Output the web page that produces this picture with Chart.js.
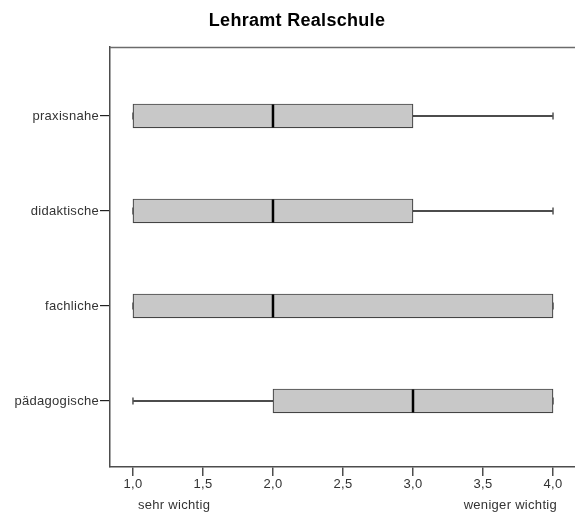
<!DOCTYPE html>
<html>
<head>
<meta charset="utf-8">
<script src="https://cdn.jsdelivr.net/npm/chart.js@4.4.1/dist/chart.umd.min.js"></script>
<style>
  html, body { margin:0; padding:0; background:#fff; }
  #c { display:block; }
</style>
</head>
<body>
<canvas id="c" width="575" height="513"></canvas>
<script>
'use strict';

/* ---- data ------------------------------------------------------------- */
const titleText  = 'Lehramt Realschule';
const categories = ['praxisnahe', 'didaktische', 'fachliche', 'pädagogische'];
const minVals    = [1, 1, 1, 1];
const q1Vals     = [1, 1, 1, 2];
const medianVals = [2, 2, 2, 3];
const q3Vals     = [3, 3, 4, 4];
const maxVals    = [4, 4, 4, 4];
const xTicks     = [1, 1.5, 2, 2.5, 3, 3.5, 4];
const xEndLabels = ['sehr wichtig', 'weniger wichtig'];

const FONT = '"Liberation Sans", Arial, sans-serif';
const AXIS = '#4d4d4d';

/* ---- whiskers, medians, frame, title ---------------------------------- */
const boxExtras = {
  id: 'boxExtras',
  beforeDraw(chart){
    // the reference text runs a bit wider than Arial
    chart.ctx.letterSpacing = '0.3px';
  },
  afterDatasetsDraw(chart){
    const ctx = chart.ctx, xs = chart.scales.x, ys = chart.scales.y;
    ctx.save();
    categories.forEach((c, i) => {
      const y = ys.getPixelForValue(i);
      const pMin = xs.getPixelForValue(minVals[i]), pQ1 = xs.getPixelForValue(q1Vals[i]);
      const pQ3 = xs.getPixelForValue(q3Vals[i]), pMax = xs.getPixelForValue(maxVals[i]);
      // whisker lines
      ctx.strokeStyle = '#111'; ctx.lineWidth = 1.5;
      ctx.beginPath();
      if (pQ1 > pMin){ ctx.moveTo(pMin, y); ctx.lineTo(pQ1, y); }
      if (pMax > pQ3){ ctx.moveTo(pQ3, y); ctx.lineTo(pMax, y); }
      ctx.stroke();
      // caps
      ctx.strokeStyle = '#555'; ctx.lineWidth = 1.5;
      ctx.beginPath();
      ctx.moveTo(pMin, y - 3.5); ctx.lineTo(pMin, y + 3.5);
      ctx.moveTo(pMax, y - 3.5); ctx.lineTo(pMax, y + 3.5);
      ctx.stroke();
      // median
      const pMed = xs.getPixelForValue(medianVals[i]);
      ctx.strokeStyle = '#000'; ctx.lineWidth = 2.5;
      ctx.beginPath(); ctx.moveTo(pMed, y - 11.5); ctx.lineTo(pMed, y + 11.5); ctx.stroke();
    });
    ctx.restore();
  },
  afterDraw(chart){
    const ctx = chart.ctx, a = chart.chartArea, xs = chart.scales.x;
    ctx.save();
    // top frame line
    ctx.strokeStyle = '#6b6b6b'; ctx.lineWidth = 1.5;
    ctx.beginPath(); ctx.moveTo(a.left, a.top + 0.5); ctx.lineTo(chart.width, a.top + 0.5); ctx.stroke();
    // title
    ctx.fillStyle = '#000'; ctx.font = 'bold 18px ' + FONT;
    ctx.textAlign = 'center'; ctx.textBaseline = 'middle';
    ctx.fillText(titleText, 297, 21);
    // end labels under the x axis
    ctx.fillStyle = '#333'; ctx.font = '13px ' + FONT;
    ctx.textAlign = 'left';
    ctx.fillText(xEndLabels[0], xs.getPixelForValue(xTicks[0]) + 5, 505);
    ctx.textAlign = 'right';
    ctx.fillText(xEndLabels[1], xs.getPixelForValue(xTicks[xTicks.length - 1]) + 4, 505);
    ctx.restore();
  }
};

new Chart(document.getElementById('c'), {
  type: 'bar',
  data: {
    datasets: [{
      data: categories.map((c, i) => ({ y: i, x: [q1Vals[i], q3Vals[i]] })),
      backgroundColor: '#c8c8c8',
      borderColor: '#444',
      borderWidth: 1.2,
      borderSkipped: false,
      barThickness: 24
    }]
  },
  options: {
    responsive: false, animation: false, indexAxis: 'y',
    devicePixelRatio: 1,
    layout: { padding: { top: 47, left: 0, right: 0, bottom: 0 } },
    plugins: { legend: { display: false }, tooltip: { enabled: false }, title: { display: false } },
    scales: {
      x: {
        type: 'linear', min: 0.836, max: 4.157,
        afterBuildTicks: (s) => { s.ticks = xTicks.map(v => ({ value: v })); },
        afterFit: (s) => { s.height = 46; },
        ticks: { color: '#333', font: { family: FONT, size: 13 }, padding: 1,
                 maxRotation: 0, callback: (v) => Number(v).toFixed(1).replace('.', ',') },
        grid: { drawOnChartArea: false, drawTicks: true, tickLength: 9, color: AXIS, lineWidth: 1.5 },
        border: { display: true, color: AXIS, width: 1.5 }
      },
      y: {
        type: 'linear', reverse: true, min: -0.726, max: 3.695,
        offset: false,
        afterBuildTicks: (s) => { s.ticks = categories.map((c, i) => ({ value: i })); },
        afterFit: (s) => { s.width = 110; },
        ticks: { color: '#333', font: { family: FONT, size: 13 }, padding: 1,
                 callback: (v) => categories[v] },
        grid: { offset: false, drawOnChartArea: false, drawTicks: true, tickLength: 10,
                color: '#222', lineWidth: 1.2 },
        border: { display: true, color: AXIS, width: 1.5 }
      }
    }
  },
  plugins: [boxExtras]
});
</script>
</body>
</html>
